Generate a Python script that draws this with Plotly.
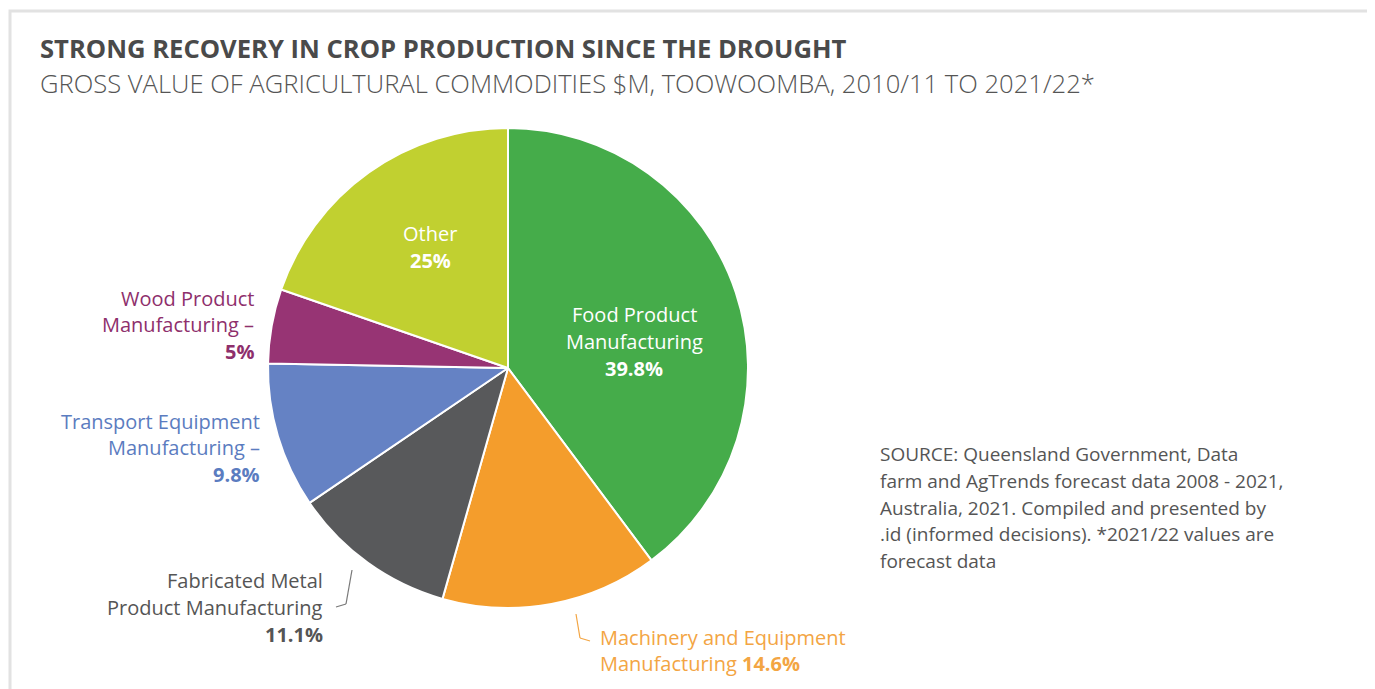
import plotly.graph_objects as go

# the page puts the plot 8px in from the top-left corner
OFF = 8
W, H = 1375 - OFF, 689 - OFF

segments = ['Food Product Manufacturing', 'Machinery and Equipment Manufacturing',
            'Fabricated Metal Product Manufacturing', 'Transport Equipment Manufacturing',
            'Wood Product Manufacturing', 'Other']
# slice sizes as drawn in the picture (the printed labels say 25% for Other)
drawn_share = [39.8, 14.6, 11.1, 9.8, 5.0, 19.7]
printed_pct = ['39.8%', '14.6%', '11.1%', '9.8%', '5%', '25%']
colors = ['#45ac4a', '#f49d2c', '#58595b', '#6582c4', '#973474', '#c1d030']

title = 'STRONG RECOVERY IN CROP PRODUCTION SINCE THE DROUGHT'
subtitle = 'GROSS VALUE OF AGRICULTURAL COMMODITIES $M, TOOWOOMBA, 2010/11 TO 2021/22*'
source_lines = ['SOURCE: Queensland Government, Data',
                'farm and AgTrends forecast data 2008 - 2021,',
                'Australia, 2021. Compiled and presented by',
                '.id (informed decisions). *2021/22 values are',
                'forecast data']

FONT = 'Open Sans'


def px(x):
    return (x - OFF) / W


def py(y):
    return 1 - (y - OFF) / H


fig = go.Figure()
fig.add_trace(go.Pie(labels=segments,
                     values=drawn_share,
                     sort=False,
                     direction='clockwise',
                     rotation=0,
                     textinfo='none',
                     hoverinfo='label',
                     marker=dict(colors=colors, line=dict(color='white', width=2)),
                     domain=dict(x=[px(268), px(748)], y=[py(608), py(128)]),
                     showlegend=False))

ann = []


def label(x, y, text, color, size=20, anchor='right', bold=False, weight=None):
    ann.append(dict(x=px(x), y=py(y), xref='paper', yref='paper', text=text,
                    showarrow=False, xanchor=anchor, yanchor='middle',
                    font=dict(family=FONT, size=size, color=color,
                              weight=weight or (700 if bold else 400))))


label(38, 48, title, '#4a4a4a', size=25.6, anchor='left', bold=True)
label(38, 84, subtitle, '#555555', size=25.6, anchor='left', weight=300)

# outside labels
label(256, 298, 'Wood Product', '#8e2f6c')
label(256, 324, 'Manufacturing –', '#8e2f6c')
label(256, 351, printed_pct[4], '#8e2f6c', bold=True)

label(262, 421, 'Transport Equipment', '#5b7cc0')
label(262, 447, 'Manufacturing –', '#5b7cc0')
label(262, 474, printed_pct[3], '#5b7cc0', bold=True)

label(325, 580, 'Fabricated Metal', '#555555')
label(325, 607, 'Product Manufacturing', '#555555')
label(325, 634, printed_pct[2], '#555555', bold=True)

label(598, 637, 'Machinery and Equipment', '#f3a543', anchor='left')
label(598, 663, 'Manufacturing <b>' + printed_pct[1] + '</b>', '#f3a543', anchor='left')

# inside labels
label(430, 233, 'Other', 'white', anchor='center')
label(430, 260, printed_pct[5], 'white', anchor='center', bold=True)
label(634, 315, 'Food Product', 'white', anchor='center')
label(634, 341, 'Manufacturing', 'white', anchor='center')
label(634, 368, printed_pct[0], 'white', anchor='center', bold=True)

for i, line in enumerate(source_lines):
    label(878, 454 + i * 26.8, line, '#555555', size=19, anchor='left')

shapes = [
    dict(type='rect', xref='paper', yref='paper', x0=px(10), x1=px(1369), y0=py(720), y1=py(11),
         line=dict(color='#e2e2e2', width=3), layer='below'),
    # connector for Fabricated Metal
    dict(type='line', xref='paper', yref='paper', x0=px(352), y0=py(570), x1=px(346), y1=py(604),
         line=dict(color='#777777', width=1.2)),
    dict(type='line', xref='paper', yref='paper', x0=px(346), y0=py(604), x1=px(336), y1=py(607),
         line=dict(color='#777777', width=1.2)),
    # connector for Machinery
    dict(type='line', xref='paper', yref='paper', x0=px(576), y0=py(614), x1=px(580), y1=py(638),
         line=dict(color='#f3a543', width=1.2)),
    dict(type='line', xref='paper', yref='paper', x0=px(580), y0=py(638), x1=px(590), y1=py(641),
         line=dict(color='#f3a543', width=1.2)),
]

fig.update_layout(width=W, height=H,
                  margin=dict(l=0, r=0, t=0, b=0),
                  paper_bgcolor='white',
                  plot_bgcolor='white',
                  annotations=ann,
                  shapes=shapes)

fig.write_html('out.html')
